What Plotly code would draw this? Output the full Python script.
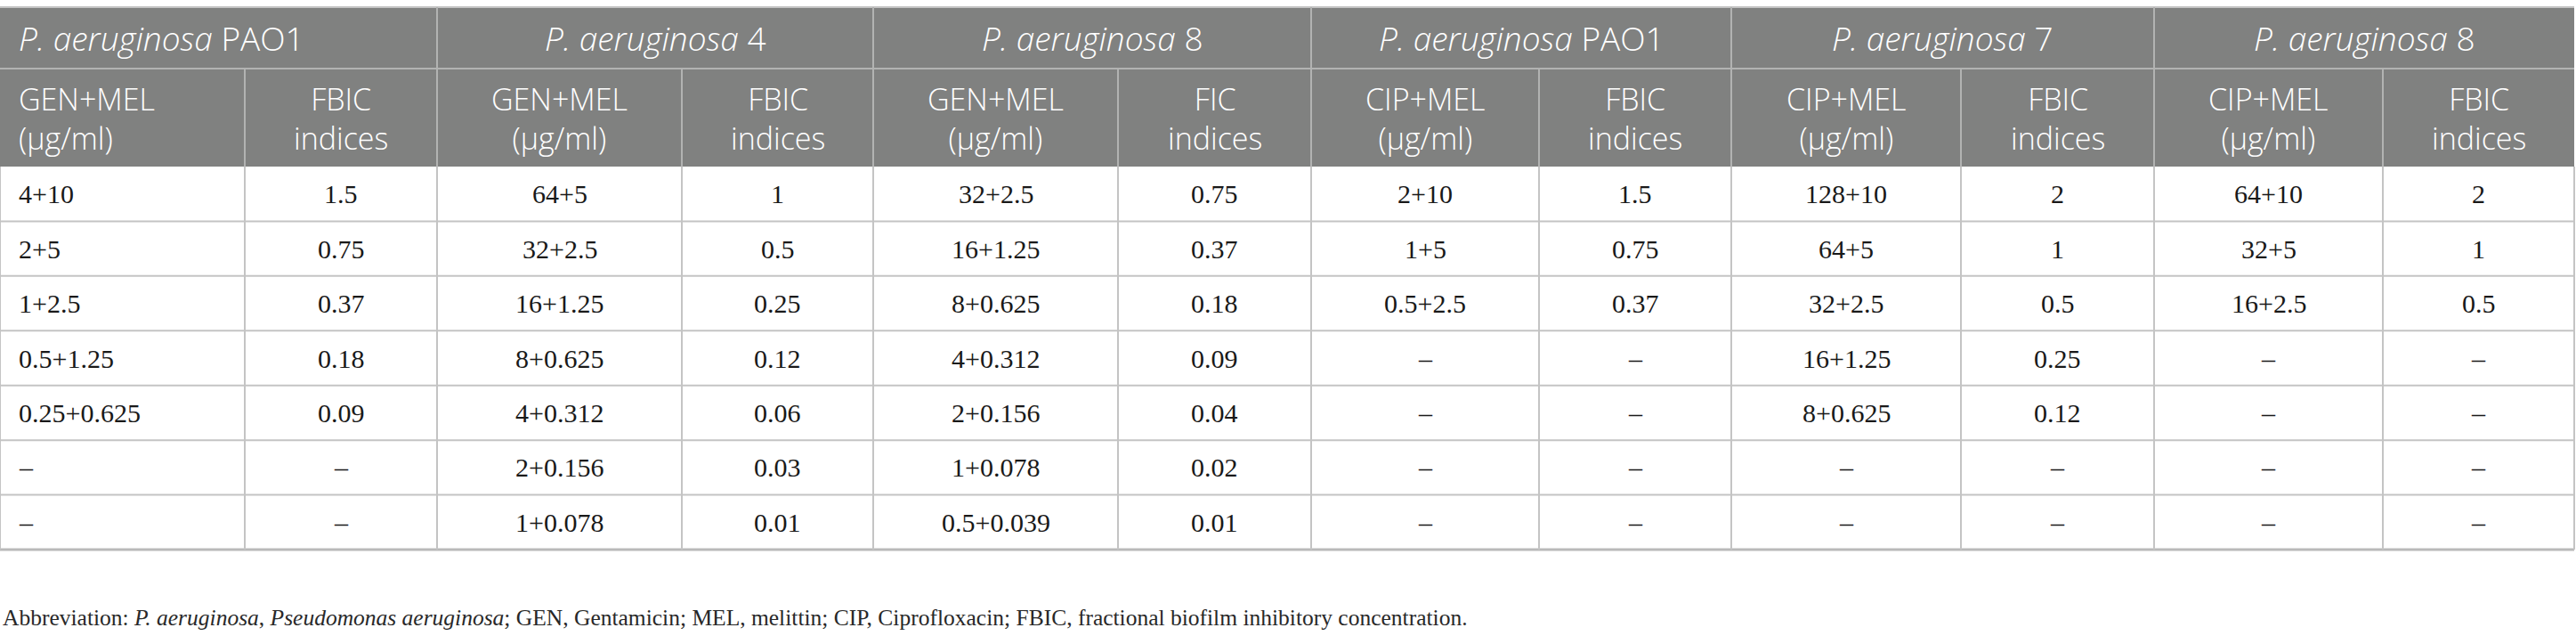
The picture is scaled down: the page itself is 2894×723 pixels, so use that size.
import numpy as np
import plotly.graph_objects as go


# table content
groups = [
    "<i>P. aeruginosa</i> PAO1", "<i>P. aeruginosa</i> 4", "<i>P. aeruginosa</i> 8",
    "<i>P. aeruginosa</i> PAO1", "<i>P. aeruginosa</i> 7", "<i>P. aeruginosa</i> 8",
]
subheaders = [
    "GEN+MEL<br>(µg/ml)", "FBIC<br>indices",
    "GEN+MEL<br>(µg/ml)", "FBIC<br>indices",
    "GEN+MEL<br>(µg/ml)", "FIC<br>indices",
    "CIP+MEL<br>(µg/ml)", "FBIC<br>indices",
    "CIP+MEL<br>(µg/ml)", "FBIC<br>indices",
    "CIP+MEL<br>(µg/ml)", "FBIC<br>indices",
]
pao1_gen = ["4+10", "2+5", "1+2.5", "0.5+1.25", "0.25+0.625", "–", "–"]
pao1_gen_fbic = ["1.5", "0.75", "0.37", "0.18", "0.09", "–", "–"]
pa4_gen = ["64+5", "32+2.5", "16+1.25", "8+0.625", "4+0.312", "2+0.156", "1+0.078"]
pa4_gen_fbic = ["1", "0.5", "0.25", "0.12", "0.06", "0.03", "0.01"]
pa8_gen = ["32+2.5", "16+1.25", "8+0.625", "4+0.312", "2+0.156", "1+0.078", "0.5+0.039"]
pa8_gen_fic = ["0.75", "0.37", "0.18", "0.09", "0.04", "0.02", "0.01"]
pao1_cip = ["2+10", "1+5", "0.5+2.5", "–", "–", "–", "–"]
pao1_cip_fbic = ["1.5", "0.75", "0.37", "–", "–", "–", "–"]
pa7_cip = ["128+10", "64+5", "32+2.5", "16+1.25", "8+0.625", "–", "–"]
pa7_cip_fbic = ["2", "1", "0.5", "0.25", "0.12", "–", "–"]
pa8_cip = ["64+10", "32+5", "16+2.5", "–", "–", "–", "–"]
pa8_cip_fbic = ["2", "1", "0.5", "–", "–", "–", "–"]
columns = [
    pao1_gen, pao1_gen_fbic, pa4_gen, pa4_gen_fbic, pa8_gen, pa8_gen_fic,
    pao1_cip, pao1_cip_fbic, pa7_cip, pa7_cip_fbic, pa8_cip, pa8_cip_fbic,
]
footnote = ("Abbreviation: <i>P. aeruginosa</i>, <i>Pseudomonas aeruginosa</i>; "
            "GEN, Gentamicin; MEL, melittin; CIP, Ciprofloxacin; "
            "FBIC, fractional biofilm inhibitory concentration.")

# geometry (pixels)
W, H = 2894, 723
col_widths = np.array([275, 216, 275, 215, 275, 217, 256, 216, 258, 217, 257, 215])
edges = np.concatenate([[0], np.cumsum(col_widths)])
centers = (edges[:-1] + edges[1:]) / 2
top, h1, h2, bottom = 8, 77, 187, 617
row_edges = np.linspace(h2, bottom, len(pao1_gen) + 1)
row_centers = (row_edges[:-1] + row_edges[1:]) / 2
pad = 19

header_bg = "rgb(128,129,128)"
header_line = "rgb(178,179,178)"
body_line = "rgb(196,196,196)"
sans = "Open Sans"
serif = "Liberation Serif"
group_size = 37
head_size = 34
body_size = 30
head_weight = 350

shapes = []
annotations = []


def hline(y, x0, x1, color, width):
    shapes.append(dict(type="line", xref="x", yref="y", x0=x0, x1=x1, y0=y, y1=y,
                       line=dict(color=color, width=width)))


def vline(x, y0, y1, color, width):
    shapes.append(dict(type="line", xref="x", yref="y", x0=x, x1=x, y0=y0, y1=y1,
                       line=dict(color=color, width=width)))


def text(x, y, s, size, family, color, align="center", weight=None):
    font = dict(size=size, family=family, color=color)
    if weight:
        font["weight"] = weight
    annotations.append(dict(
        x=x, y=y, xref="x", yref="y", text=s, showarrow=False,
        xanchor=align, yanchor="middle", align=align, font=font,
    ))


# header background
shapes.append(dict(type="rect", xref="x", yref="y", x0=edges[0], x1=edges[-1], y0=top, y1=h2,
                   fillcolor=header_bg, line=dict(width=0), layer="below"))
hline(top, edges[0], edges[-1], body_line, 2)
hline(h1, edges[0], edges[-1], header_line, 2)
for i in range(2, len(edges) - 1, 2):
    vline(edges[i], top, h2, header_line, 2)
for i in range(1, len(edges) - 1, 2):
    vline(edges[i], h1, h2, header_line, 2)

# body grid
for y in row_edges[1:-1]:
    hline(y, edges[0], edges[-1], body_line, 2)
hline(bottom, edges[0], edges[-1], "rgb(185,185,185)", 3)
for x in edges:
    vline(x, h2, bottom, body_line, 2)

# header text
for g, name in enumerate(groups):
    y = (top + h1) / 2
    if g == 0:
        text(edges[0] + pad, y, name, group_size, sans, "white", "left", head_weight)
    else:
        text((edges[2 * g] + edges[2 * g + 2]) / 2, y, name,
             group_size, sans, "white", weight=head_weight)
for c, name in enumerate(subheaders):
    y = (h1 + h2) / 2 + 1
    if c == 0:
        text(edges[0] + pad, y, name, head_size, sans, "white", "left", head_weight)
    else:
        text(centers[c], y, name, head_size, sans, "white", weight=head_weight)

# body text
for c, values in enumerate(columns):
    for r, v in enumerate(values):
        if c == 0:
            text(edges[0] + pad, row_centers[r], v, body_size, serif, "rgb(25,25,25)", "left")
        else:
            text(centers[c], row_centers[r], v, body_size, serif, "rgb(25,25,25)")

text(1, 693, footnote, 25.5, serif, "rgb(40,40,40)", "left")

fig = go.Figure()
fig.update_layout(
    width=W, height=H,
    margin=dict(l=0, r=0, t=0, b=0),
    paper_bgcolor="white", plot_bgcolor="white",
    xaxis=dict(range=[0, W], visible=False, fixedrange=True),
    yaxis=dict(range=[H, 0], visible=False, fixedrange=True),
    shapes=shapes, annotations=annotations,
    showlegend=False,
)
# drop the default page margin so the figure sits at the window origin
fig.write_html("out.html", config={"displayModeBar": False},
               post_script="document.body.style.margin = '0';")
